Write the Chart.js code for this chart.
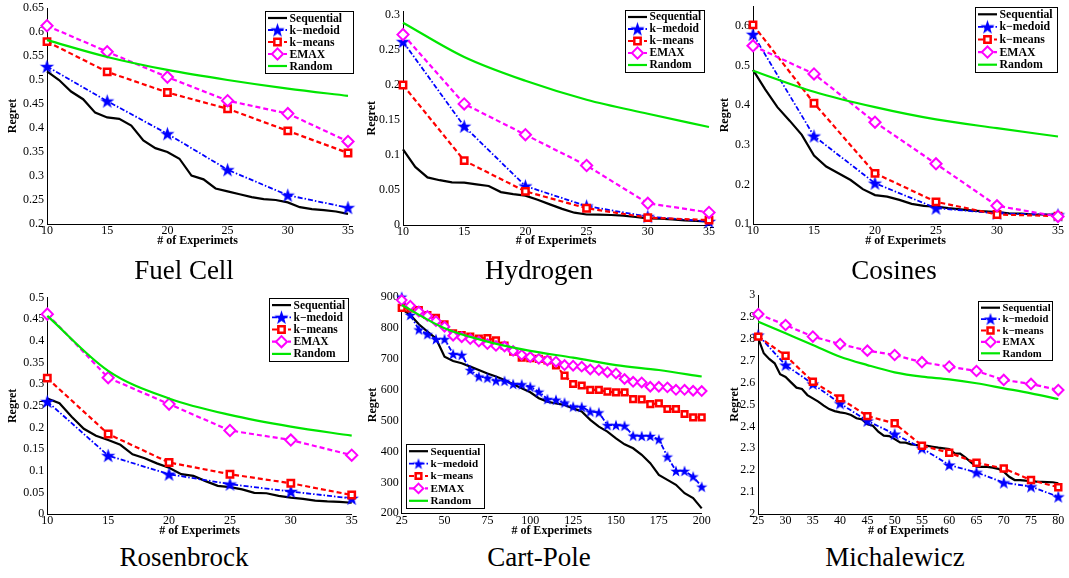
<!DOCTYPE html>
<html>
<head>
<meta charset="utf-8">
<script src="https://cdn.jsdelivr.net/npm/chart.js@4/dist/chart.umd.min.js"></script>
<style>
  body { margin: 0; background: #fff; width: 1069px; height: 578px; position: relative; overflow: hidden; }
  canvas { position: absolute; }
  .ttl { position: absolute; width: 300px; text-align: center; font: 27px/27px 'Liberation Serif', 'Times New Roman', serif; color: #000; }
</style>
</head>
<body>
<canvas id="fuel" width="360" height="258" style="left:0px;top:-10px"></canvas>
<canvas id="hydro" width="370" height="258" style="left:355px;top:-10px"></canvas>
<canvas id="cos" width="370" height="258" style="left:710px;top:-10px"></canvas>
<canvas id="ros" width="365" height="261" style="left:0px;top:277px"></canvas>
<canvas id="cart" width="360" height="261" style="left:355px;top:277px"></canvas>
<canvas id="mich" width="370" height="261" style="left:710px;top:277px"></canvas>

<div class="ttl" style="left:34px;top:257px">Fuel Cell</div>
<div class="ttl" style="left:389px;top:257px">Hydrogen</div>
<div class="ttl" style="left:744px;top:257px">Cosines</div>
<div class="ttl" style="left:34px;top:544px">Rosenbrock</div>
<div class="ttl" style="left:389px;top:544px">Cart-Pole</div>
<div class="ttl" style="left:745px;top:544px">Michalewicz</div>

<script>
// ---- data ----
var seriesNames = ['Sequential', 'k\u2212medoid', 'k\u2212means', 'EMAX', 'Random'];

var expX = [10, 15, 20, 25, 30, 35];
var expSeqX = [10, 11, 12, 13, 14, 15, 16, 17, 18, 19, 20, 21, 22, 23, 24, 25, 26, 27, 28, 29, 30, 31, 32, 33, 34, 35];

// Fuel Cell
var fuelSeq = [0.518, 0.500, 0.476, 0.460, 0.432, 0.422, 0.419, 0.405, 0.374, 0.358, 0.350, 0.336, 0.301,
               0.293, 0.274, 0.268, 0.262, 0.256, 0.252, 0.250, 0.245, 0.235, 0.231, 0.229, 0.226, 0.221];
var fuelMedoid = [0.528, 0.456, 0.388, 0.313, 0.260, 0.234];
var fuelMeans = [0.580, 0.517, 0.474, 0.440, 0.394, 0.348];
var fuelEmax = [0.613, 0.559, 0.506, 0.457, 0.430, 0.372];
var fuelRandom = [0.583, 0.548, 0.521, 0.500, 0.482, 0.467];
var fuelYTicks = [0.2, 0.25, 0.3, 0.35, 0.4, 0.45, 0.5, 0.55, 0.6, 0.65];

// Hydrogen
var h2Seq = [0.108, 0.083, 0.068, 0.064, 0.061, 0.0605, 0.058, 0.0557, 0.047, 0.044, 0.042, 0.036, 0.0295,
             0.023, 0.0176, 0.015, 0.0148, 0.0143, 0.0133, 0.0114, 0.0095, 0.009, 0.008, 0.0067, 0.0057, 0.0048];
var h2Medoid = [0.262, 0.141, 0.0557, 0.027, 0.012, 0.005];
var h2Means = [0.200, 0.092, 0.048, 0.024, 0.0105, 0.007];
var h2Emax = [0.272, 0.173, 0.129, 0.085, 0.031, 0.018];
var h2Random = [0.289, 0.240, 0.206, 0.179, 0.159, 0.140];
var h2YTicks = [0, 0.05, 0.1, 0.15, 0.2, 0.25, 0.3];

// Cosines
var cosSeq = [0.489, 0.440, 0.395, 0.361, 0.325, 0.273, 0.245, 0.228, 0.211, 0.188, 0.173, 0.169, 0.161,
              0.151, 0.146, 0.144, 0.140, 0.137, 0.134, 0.132, 0.130, 0.127, 0.126, 0.124, 0.124, 0.123];
var cosMedoid = [0.579, 0.322, 0.203, 0.140, 0.127, 0.123];
var cosMeans = [0.603, 0.405, 0.228, 0.156, 0.124, 0.120];
var cosEmax = [0.550, 0.479, 0.357, 0.252, 0.146, 0.119];
var cosRandom = [0.487, 0.434, 0.395, 0.364, 0.342, 0.321];
var cosYTicks = [0.1, 0.2, 0.3, 0.4, 0.5, 0.6];

// Rosenbrock
var rosSeq = [0.267, 0.256, 0.225, 0.197, 0.181, 0.171, 0.160, 0.138, 0.129, 0.117, 0.107, 0.092, 0.088,
              0.076, 0.065, 0.062, 0.057, 0.049, 0.048, 0.042, 0.038, 0.035, 0.031, 0.029, 0.028, 0.026];
var rosMedoid = [0.260, 0.135, 0.092, 0.069, 0.052, 0.036];
var rosMeans = [0.314, 0.185, 0.119, 0.092, 0.071, 0.044];
var rosEmax = [0.462, 0.315, 0.254, 0.193, 0.171, 0.136];
var rosRandom = [0.458, 0.331, 0.267, 0.229, 0.202, 0.181];
var rosYTicks = [0, 0.05, 0.1, 0.15, 0.2, 0.25, 0.3, 0.35, 0.4, 0.45, 0.5];

// Cart-Pole
var cartX = [25, 30, 35, 40, 45, 50, 55, 60, 65, 70, 75, 80, 85, 90, 95, 100, 105, 110, 115, 120,
             125, 130, 135, 140, 145, 150, 155, 160, 165, 170, 175, 180, 185, 190, 195, 200];
var cartSeq = [860, 841, 811, 787, 765, 706, 692, 685, 674, 663, 652, 642, 631, 617, 604, 591, 572, 561,
               555, 550, 539, 529, 502, 480, 464, 442, 423, 410, 389, 362, 324, 308, 292, 265, 249, 216];
var cartMedoid = [900, 841, 794, 779, 763, 763, 715, 712, 663, 642, 638, 629, 628, 618, 617, 609, 593, 569,
                  567, 558, 545, 544, 529, 526, 485, 485, 483, 451, 450, 450, 439, 383, 337, 337, 319, 286];
var cartMeans = [864, 862, 857, 841, 832, 811, 782, 776, 771, 765, 766, 759, 742, 722, 703, 701, 699, 694,
                 678, 645, 618, 613, 599, 599, 593, 591, 591, 569, 568, 553, 555, 537, 537, 521, 510, 510];
var cartEmax = [889, 871, 852, 838, 821, 803, 774, 769, 763, 755, 747, 741, 739, 725, 712, 705, 699, 694,
                690, 679, 677, 674, 665, 663, 656, 652, 634, 625, 623, 609, 609, 607, 599, 599, 596, 595];
var cartRandX = [25, 50, 75, 100, 125, 150, 175, 200];
var cartRandom = [873, 798, 755, 725, 703, 679, 663, 642];
var cartXTicks = [25, 50, 75, 100, 125, 150, 175, 200];
var cartYTicks = [200, 300, 400, 500, 600, 700, 800, 900];

// Michalewicz
var michX = [25, 30, 35, 40, 45, 50, 55, 60, 65, 70, 75, 80];
var michSeqX = [25, 26, 27, 28, 29, 30, 31, 32, 33, 34, 35, 36, 37, 38, 39, 40, 41, 42, 43, 44, 45, 46, 47, 48,
                49, 50, 51, 52, 53, 54, 55, 56, 57, 58, 59, 60, 61, 62, 63, 64, 65, 66, 67, 68, 69, 70, 71, 72,
                73, 74, 75, 76, 77, 78, 79, 80];
var michSeq = [2.802, 2.734, 2.708, 2.688, 2.638, 2.626, 2.601, 2.577, 2.571, 2.543, 2.528, 2.513, 2.495, 2.479,
               2.470, 2.464, 2.460, 2.452, 2.437, 2.432, 2.410, 2.403, 2.376, 2.358, 2.356, 2.342, 2.327, 2.326,
               2.318, 2.315, 2.312, 2.311, 2.307, 2.303, 2.300, 2.297, 2.277, 2.276, 2.257, 2.236, 2.216, 2.215,
               2.215, 2.212, 2.206, 2.193, 2.170, 2.155, 2.155, 2.152, 2.150, 2.148, 2.147, 2.146, 2.145, 2.140];
var michMedoid = [2.817, 2.680, 2.594, 2.505, 2.425, 2.365, 2.300, 2.224, 2.190, 2.143, 2.125, 2.079];
var michMeans = [2.810, 2.723, 2.604, 2.528, 2.447, 2.414, 2.312, 2.280, 2.234, 2.208, 2.155, 2.122];
var michEmax = [2.913, 2.863, 2.810, 2.776, 2.746, 2.726, 2.693, 2.673, 2.653, 2.612, 2.594, 2.566];
var michRandom = [2.878, 2.825, 2.772, 2.718, 2.680, 2.647, 2.627, 2.615, 2.597, 2.574, 2.551, 2.525];
var michYTicks = [2, 2.1, 2.2, 2.3, 2.4, 2.5, 2.6, 2.7, 2.8, 2.9, 3];

// ---- drawing ----
Chart.defaults.font.family = "'Liberation Serif', 'Times New Roman', serif";
Chart.defaults.color = '#000';

function makeStar(r) {
  var c = document.createElement('canvas');
  c.width = c.height = Math.ceil(r * 2) + 2;
  var g = c.getContext('2d');
  var m = c.width / 2;
  g.beginPath();
  for (var i = 0; i < 10; i++) {
    var a = -Math.PI / 2 + i * Math.PI / 5;
    var rr = i % 2 ? r * 0.4 : r;
    g.lineTo(m + rr * Math.cos(a), m + rr * Math.sin(a) + 0.6);
  }
  g.closePath();
  g.fillStyle = '#0000ff';
  g.fill();
  return c;
}

function pts(xs, ys) {
  return ys.map(function (y, i) { return { x: xs[i], y: y }; });
}

// mk = marker sizes {star, sq, dia}
function series(seqX, seq, mx, med, mea, emax, rx, rnd, mk) {
  return [
    { label: seriesNames[0], data: pts(seqX, seq), borderColor: '#000', borderWidth: 2.2, pointRadius: 0, order: 4 },
    { label: seriesNames[1], data: pts(mx, med), borderColor: '#0000ff', borderWidth: 1.8, borderDash: [5, 2, 1.5, 2],
      pointStyle: makeStar(mk.star), pointRadius: mk.star, order: 3 },
    { label: seriesNames[2], data: pts(mx, mea), borderColor: '#ff0000', borderWidth: 2.2, borderDash: [5, 3],
      pointStyle: 'rect', pointRadius: mk.sq, pointBorderWidth: 2.5, pointBorderColor: '#ff0000',
      pointBackgroundColor: '#fff', order: 2 },
    { label: seriesNames[3], data: pts(mx, emax), borderColor: '#ff00ff', borderWidth: 2.2, borderDash: [5, 3],
      pointStyle: 'rectRot', pointRadius: mk.dia, pointBorderWidth: 2, pointBorderColor: '#ff00ff',
      pointBackgroundColor: '#fff', order: 1 },
    { label: seriesNames[4], data: pts(rx, rnd), borderColor: '#00e600', borderWidth: 2.2, pointRadius: 0,
      cubicInterpolationMode: 'monotone', order: 0 }
  ];
}

function drawMarker(ctx, ds, x, y) {
  var st = ds.pointStyle;
  if (!ds.pointRadius) return;
  if (typeof st === 'object') {
    ctx.drawImage(st, x - st.width / 2, y - st.height / 2);
    return;
  }
  var r = ds.pointRadius;
  ctx.setLineDash([]);
  ctx.lineWidth = ds.pointBorderWidth;
  ctx.strokeStyle = ds.pointBorderColor;
  ctx.fillStyle = ds.pointBackgroundColor;
  ctx.beginPath();
  if (st === 'rect') {
    var s = r * Math.SQRT1_2;
    ctx.rect(x - s, y - s, 2 * s, 2 * s);
  } else {
    ctx.moveTo(x, y - r); ctx.lineTo(x + r, y); ctx.lineTo(x, y + r); ctx.lineTo(x - r, y); ctx.closePath();
  }
  ctx.fill();
  ctx.stroke();
}

var matLegend = {
  id: 'matLegend',
  afterDatasetsDraw: function (chart, args, o) {
    var ctx = chart.ctx;
    ctx.save();
    ctx.fillStyle = '#fff';
    ctx.fillRect(o.x, o.y, o.w, o.h);
    ctx.strokeStyle = '#000';
    ctx.lineWidth = 1;
    ctx.setLineDash([]);
    ctx.strokeRect(o.x + 0.5, o.y + 0.5, o.w, o.h);
    var rowH = (o.h - 2) / 5;
    chart.data.datasets.forEach(function (ds, i) {
      var cy = o.y + 1 + rowH * (i + 0.5);
      ctx.strokeStyle = ds.borderColor;
      ctx.lineWidth = ds.borderWidth;
      ctx.setLineDash(ds.borderDash || []);
      ctx.beginPath();
      ctx.moveTo(o.x + 3, cy);
      ctx.lineTo(o.x + 22, cy);
      ctx.stroke();
      drawMarker(ctx, ds, o.x + 12.5, cy);
      ctx.fillStyle = '#000';
      ctx.font = 'bold ' + o.font + "px 'Liberation Serif', serif";
      ctx.textBaseline = 'middle';
      ctx.fillText(ds.label, o.x + 24.5, cy + 0.5);
    });
    ctx.restore();
  }
};

function fmt(v) { return String(Math.round(v * 1000) / 1000); }

function panel(id, o) {
  new Chart(document.getElementById(id), {
    type: 'line',
    data: { datasets: o.datasets },
    options: {
      responsive: false,
      animation: false,
      devicePixelRatio: 1,
      datasets: { line: { clip: false, tension: 0 } },
      layout: { padding: { left: 0, top: o.padTop, right: o.padRight, bottom: 0 } },
      plugins: { legend: { display: false }, tooltip: { enabled: false }, matLegend: o.legend },
      scales: {
        x: {
          type: 'linear', min: o.xTicks[0], max: o.xTicks[o.xTicks.length - 1],
          afterBuildTicks: function (s) { s.ticks = o.xTicks.map(function (v) { return { value: v }; }); },
          afterFit: function (s) { s.height = o.xh; },
          grid: { display: false, drawTicks: false },
          border: { display: true, color: '#000', width: 1 },
          ticks: { padding: 0, font: { size: 12 }, maxRotation: 0, autoSkip: false, callback: fmt },
          title: { display: true, text: '# of Experimets', font: { size: 12, weight: 'bold' }, padding: 0 }
        },
        y: {
          type: 'linear', min: o.yMin, max: o.yMax,
          afterBuildTicks: function (s) { s.ticks = o.yTicks.map(function (v) { return { value: v }; }); },
          afterFit: function (s) { s.width = o.yw; },
          grid: { display: false, drawTicks: false },
          border: { display: true, color: '#000', width: 1 },
          ticks: { padding: 3, font: { size: 12 }, autoSkip: false, callback: fmt },
          title: { display: true, text: 'Regret', font: { size: 12, weight: 'bold' }, padding: { top: o.yTitlePad, bottom: 0 } }
        }
      }
    },
    plugins: [matLegend]
  });
}

var bigMk = { star: 7.5, sq: 4.5, dia: 5.6 };

panel('fuel', {
  datasets: series(expSeqX, fuelSeq, expX, fuelMedoid, fuelMeans, fuelEmax, expX, fuelRandom, bigMk),
  xTicks: expX, yTicks: fuelYTicks, yMin: 0.2, yMax: 0.65,
  yw: 47, xh: 24, padTop: 18, padRight: 12, yTitlePad: 5.8,
  legend: { x: 265, y: 21, w: 88, h: 62, font: 11.7 }
});
panel('hydro', {
  datasets: series(expSeqX, h2Seq, expX, h2Medoid, h2Means, h2Emax, expX, h2Random, bigMk),
  xTicks: expX, yTicks: h2YTicks, yMin: 0, yMax: 0.305,
  yw: 48, xh: 23, padTop: 21.5, padRight: 16, yTitlePad: 9.5,
  legend: { x: 270, y: 20, w: 79, h: 62, font: 11.5 }
});
panel('cos', {
  datasets: series(expSeqX, cosSeq, expX, cosMedoid, cosMeans, cosEmax, expX, cosRandom, bigMk),
  xTicks: expX, yTicks: cosYTicks, yMin: 0.1, yMax: 0.65,
  yw: 43, xh: 24, padTop: 16.2, padRight: 22, yTitlePad: 7.8,
  legend: { x: 265, y: 17, w: 82, h: 65, font: 11.8 }
});
panel('ros', {
  datasets: series(expSeqX, rosSeq, expX, rosMedoid, rosMeans, rosEmax, expX, rosRandom, bigMk),
  xTicks: expX, yTicks: rosYTicks, yMin: 0, yMax: 0.5,
  yw: 47.3, xh: 24, padTop: 20.7, padRight: 13.3, yTitlePad: 6.1,
  legend: { x: 269, y: 21, w: 79, h: 63, font: 11.5 }
});
panel('cart', {
  datasets: series(cartX, cartSeq, cartX, cartMedoid, cartMeans, cartEmax, cartRandX, cartRandom,
                   { star: 6, sq: 4, dia: 4.8 }),
  xTicks: cartXTicks, yTicks: cartYTicks, yMin: 200, yMax: 900,
  yw: 46.7, xh: 24.7, padTop: 19.7, padRight: 13.3, yTitlePad: 11.1,
  legend: { x: 51, y: 167, w: 78, h: 64, font: 11.1 }
});
panel('mich', {
  datasets: series(michSeqX, michSeq, michX, michMedoid, michMeans, michEmax, michX, michRandom,
                   { star: 6.8, sq: 4.2, dia: 5.2 }),
  xTicks: michX, yTicks: michYTicks, yMin: 2, yMax: 3,
  yw: 48.3, xh: 24, padTop: 18, padRight: 21.7, yTitlePad: 17.8,
  legend: { x: 268, y: 24, w: 74, h: 59, font: 10.7 }
});
</script>
</body>
</html>
